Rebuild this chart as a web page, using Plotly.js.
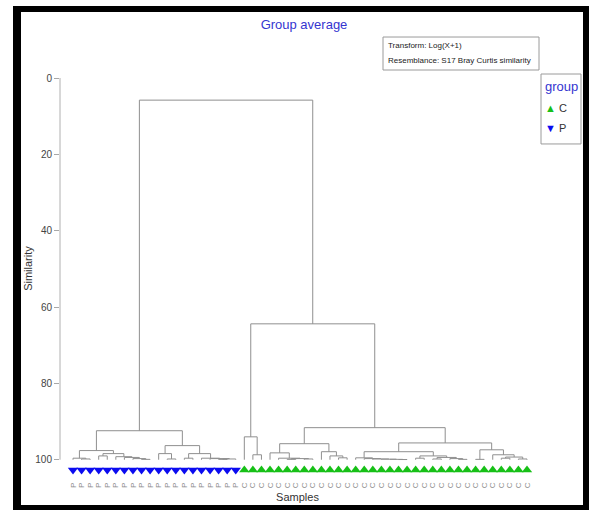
<!DOCTYPE html>
<html>
<head>
<meta charset="utf-8">
<script src="https://cdn.plot.ly/plotly-3.0.1.min.js"></script>
<style>
html,body{margin:0;padding:0;background:#fff;}
#wrap{position:relative;width:589px;height:510px;overflow:hidden;}
#plot{position:absolute;left:0;top:0;width:589px;height:510px;}
#frame{position:absolute;left:13px;top:6px;width:576px;height:504px;box-sizing:border-box;
  border-left:8px solid #000;border-top:6px solid #000;border-right:6px solid #000;border-bottom:5px solid #000;pointer-events:none;}
</style>
</head>
<body>
<div id="wrap"><div id="plot"></div><div id="frame"></div></div>
<script>
// ---- data ----
const sampleGroup = [
  'P','P','P','P','P','P','P','P','P','P','P','P','P','P','P','P','P','P','P','P',
  'C','C','C','C','C','C','C','C','C','C','C','C','C','C','C','C','C','C','C','C',
  'C','C','C','C','C','C','C','C','C','C','C','C','C','C'
];
// linkage: positive = sample number (1-based), negative = earlier merge number (1-based)
const mergeA = [2,1,4,9,8,7,6,-3,-2,12,11,14,18,-13,17,16,-12,-11,-9,
                22,21,26,28,-22,25,24,32,31,30,-26,39,38,37,36,35,34,41,43,46,45,-38,-37,-36,48,51,53,-45,50,-44,-43,-30,-21,-19];
const mergeB = [3,-1,5,10,-4,-5,-6,-7,-8,13,-10,15,19,20,-14,-15,-16,-17,-18,
                23,-20,27,29,-23,-24,-25,33,-27,-28,-29,40,-31,-32,-33,-34,-35,42,44,47,-39,-40,-41,-42,49,52,54,-46,-47,-48,-49,-50,-51,-52];
const mergeSim = [99.8,99.6,99.0,99.9,99.7,99.4,99.2,98.4,97.6,99.8,98.4,99.6,99.9,99.8,99.7,99.6,98.4,96.3,92.4,
                  98.7,94.0,99.9,99.8,99.7,99.6,98.2,99.5,99.0,97.9,95.8,99.95,99.9,99.85,99.8,99.7,99.5,99.6,99.8,99.9,99.7,99.4,99.0,97.9,99.9,99.6,99.8,99.3,98.7,97.4,95.6,91.6,64.4,5.8];
const yTicks = [0,20,40,60,80,100];
const titleText = 'Group average';
const yTitle = 'Similarity';
const xTitle = 'Samples';
const infoLines = ['Transform: Log(X+1)','Resemblance: S17 Bray Curtis similarity'];
const groupNames = ['C','P'];

// ---- layout helpers ----
const W=589,H=510, L=60, R=54, T=78;
const pxPerUnit = 3.82, sMax = 104;
const PH = sMax*pxPerUnit, B = H-T-PH;
const PW=W-L-R;
const px2x = p => (p-L)/PW;
const px2y = p => (T+PH-p)/PH;
const FONT = '"Liberation Sans",Arial,sans-serif';

// ---- build dendrogram paths ----
const n = sampleGroup.length;
const leafX = sampleGroup.map((g,i)=>i+1);
const clusters = [];
function node(ref){ return ref>0 ? {x:leafX[ref-1], h:100} : clusters[-ref-1]; }
const lx=[], ly=[];
for(let k=0;k<mergeA.length;k++){
  const a=node(mergeA[k]), b=node(mergeB[k]), h=mergeSim[k];
  lx.push(a.x,a.x,b.x,b.x,null);
  ly.push(a.h,h,h,b.h,null);
  clusters.push({x:(a.x+b.x)/2,h:h});
}
const markerLevel = 100 + 2.7;
const colors = {C:'#17c017', P:'#0b0bf0'};
const symbols = {C:'triangle-up', P:'triangle-down'};

const traces = [{
  x:lx, y:ly, type:'scatter', mode:'lines', hoverinfo:'skip',
  line:{color:'#8f8f8f', width:1}, showlegend:false
}];
groupNames.slice().reverse().forEach(g=>{
  const xs=[], ys=[];
  sampleGroup.forEach((s,i)=>{ if(s===g){ xs.push(leafX[i]); ys.push(markerLevel);} });
  traces.push({x:xs,y:ys,type:'scatter',mode:'markers',name:g,showlegend:false,
    marker:{symbol:symbols[g], color:colors[g], size:9, line:{width:0}}});
});

const xmin = 1 - 13/8.566, xmax = n + 8/8.566;

const layout = {
  width:W, height:H, margin:{l:L,r:R,t:T,b:B}, paper_bgcolor:'#fff', plot_bgcolor:'#fff',
  showlegend:false,
  title:{text:titleText, x:304/W, xref:'container', xanchor:'center', y:1-24/H, yref:'container', yanchor:'middle',
    font:{family:FONT, size:13, color:'#3535d0'}},
  xaxis:{range:[xmin,xmax], showgrid:false, zeroline:false, showline:false, ticks:'',
    tickvals:leafX, ticktext:sampleGroup, tickangle:-90, ticklabelstandoff:5,
    tickfont:{family:FONT, size:8, color:'#8c8c8c'},
    title:{text:xTitle, font:{family:FONT, size:11, color:'#333'}, standoff:5}},
  yaxis:{range:[sMax,0], showgrid:false, zeroline:false, showline:false,
    ticks:'outside', ticklen:5, tickcolor:'#a8a8a8', tickvals:yTicks, ticktext:yTicks.map(String),
    tickfont:{family:FONT, size:10, color:'#444'}},
  shapes:[
    {type:'line', xref:'paper', yref:'y', x0:0, x1:0, y0:yTicks[0], y1:yTicks[yTicks.length-1], line:{color:'#b0b0b0', width:1}},
    {type:'rect', xref:'paper', yref:'paper', x0:px2x(383), x1:px2x(539), y0:px2y(70), y1:px2y(37), line:{color:'#9a9a9a', width:1}},
    {type:'rect', xref:'paper', yref:'paper', x0:px2x(541), x1:px2x(581), y0:px2y(144), y1:px2y(74), line:{color:'#9a9a9a', width:1}}
  ],
  annotations:[
    {xref:'paper', yref:'y', x:px2x(28), y:50, xanchor:'center', yanchor:'middle', showarrow:false, textangle:-90,
     text:yTitle, font:{family:FONT, size:11, color:'#333'}},
    {xref:'paper', yref:'paper', x:px2x(386), y:px2y(45), xanchor:'left', yanchor:'middle', showarrow:false,
     text:infoLines[0], font:{family:FONT, size:8, color:'#222'}},
    {xref:'paper', yref:'paper', x:px2x(386), y:px2y(60), xanchor:'left', yanchor:'middle', showarrow:false,
     text:infoLines[1], font:{family:FONT, size:8, color:'#222'}},
    {xref:'paper', yref:'paper', x:px2x(561), y:px2y(87), xanchor:'center', yanchor:'middle', showarrow:false,
     text:'group', font:{family:FONT, size:13, color:'#3535d0'}},
    {xref:'paper', yref:'paper', x:px2x(543), y:px2y(108), xanchor:'left', yanchor:'middle', showarrow:false,
     text:'<span style="color:'+colors.C+'">▲</span> '+groupNames[0], font:{family:FONT, size:11, color:'#333'}},
    {xref:'paper', yref:'paper', x:px2x(543), y:px2y(128), xanchor:'left', yanchor:'middle', showarrow:false,
     text:'<span style="color:'+colors.P+'">▼</span> '+groupNames[1], font:{family:FONT, size:11, color:'#333'}}
  ]
};
Plotly.newPlot('plot', traces, layout, {displayModeBar:false, staticPlot:true});
</script>
</body>
</html>
